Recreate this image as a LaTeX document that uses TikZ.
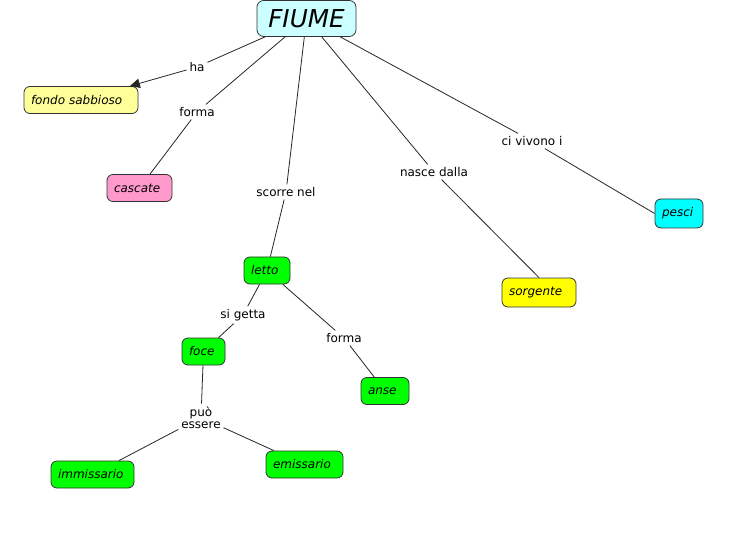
\documentclass[tikz,border=0pt]{standalone}
\usepackage{fontspec}
\setmainfont{DejaVu Sans}[ItalicFont={DejaVu Sans Oblique}]
\usetikzlibrary{arrows.meta}
\definecolor{cFiume}{HTML}{CCFFFF}
\definecolor{cFondo}{HTML}{FFFF99}
\definecolor{cCascate}{HTML}{FF99CC}
\definecolor{cGreen}{HTML}{00FF00}
\definecolor{cYellow}{HTML}{FFFF00}
\definecolor{cCyan}{HTML}{00FFFF}
\begin{document}
\begin{tikzpicture}[x=0.75pt,y=-0.75pt,
  concept/.style={draw=black!80, line width=0.6pt, rounded corners=4.5pt,
    font=\fontsize{9}{11}\selectfont\itshape, inner xsep=5.25pt, inner ysep=0pt,
    minimum height=20.25pt, align=left},
  mainconcept/.style={draw=black!80, line width=0.6pt, rounded corners=5pt,
    font=\fontsize{18.5}{20}\selectfont\itshape, inner sep=0pt,
    minimum width=74.25pt, minimum height=27pt, fill=cFiume},
  link/.style={font=\fontsize{9}{11}\selectfont, inner sep=2pt, align=center},
  conn/.style={draw=black!85, line width=0.6pt},
  tip/.style={-{Triangle[length=7.5pt,width=7pt]}}]
\useasboundingbox[fill=white] (0,0) rectangle (748,534);

% concepts
\node[mainconcept] (fiume) at (306.5,18.5) {FIUME};
\node[concept, fill=cFondo, text width=75pt] (fondo) at (81,100) {fondo sabbioso};
\node[concept, fill=cCascate, text width=38.25pt] (cascate) at (139.5,188) {cascate};
\node[concept, fill=cGreen, text width=24pt] (letto) at (267,270.5) {letto};
\node[concept, fill=cGreen, text width=21.75pt] (foce) at (203.5,351.5) {foce};
\node[concept, fill=cGreen, text width=25.5pt] (anse) at (385,391) {anse};
\node[concept, fill=cGreen, text width=51.75pt] (immissario) at (92.5,474.5) {immissario};
\node[concept, fill=cGreen, text width=47.25pt] (emissario) at (304.5,464.5) {emissario};
\node[concept, fill=cYellow, text width=45pt, minimum height=21.75pt] (sorgente) at (539,292.5) {sorgente};
\node[concept, fill=cCyan, text width=25.5pt, minimum height=21.75pt] (pesci) at (679,213.5) {pesci};

% linking phrases
\node[link] (ha) at (197,67) {ha};
\node[link] (forma1) at (197,112) {forma};
\node[link] (scorre) at (286,192) {scorre nel};
\node[link] (nasce) at (434,172) {nasce dalla};
\node[link] (civivono) at (532,141) {ci vivono i};
\node[link] (sigetta) at (243,315) {si getta};
\node[link] (forma2) at (344,338) {forma};
\node[link] (puo) at (201,417.5) {può\\[-2pt]essere};

% connectors
\draw[conn] (fiume) -- (ha);
\draw[conn, tip] (ha) -- (fondo);
\draw[conn] (fiume) -- (forma1);
\draw[conn] (forma1) -- (cascate);
\draw[conn] (fiume) -- (scorre);
\draw[conn] (scorre) -- (letto);
\draw[conn] (fiume) -- (nasce);
\draw[conn] (nasce) -- (sorgente.north);
\draw[conn] (fiume) -- (civivono);
\draw[conn] (civivono) -- (pesci.west);
\draw[conn] (letto) -- (sigetta);
\draw[conn] (sigetta) -- (foce);
\draw[conn] (letto) -- (forma2);
\draw[conn] (forma2) -- (anse);
\draw[conn] (foce) -- (puo);
\draw[conn] (puo) -- (immissario);
\draw[conn] (puo) -- (emissario);
\end{tikzpicture}
\end{document}
